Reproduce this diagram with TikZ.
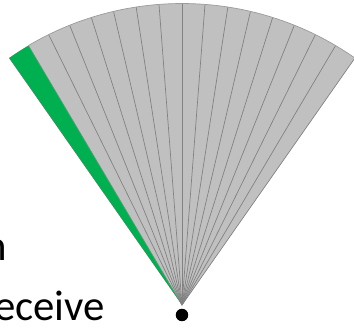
\documentclass[tikz,border=0pt]{standalone}
\usepackage{fontspec}
\setmainfont{Carlito}
\definecolor{fangray}{RGB}{192,192,192}
\definecolor{rayline}{RGB}{130,130,130}
\definecolor{beamgreen}{RGB}{0,176,80}
\tikzset{
  % --- fan sectors -----------------------------------------------------------
  sector/.style={fill=fangray},
  active/.style={fill=beamgreen},              % the lit sector
  ray/.style={draw=rayline,line width=0.7bp},
  rim/.style={draw=rayline!80,line width=0.7bp},
  % --- source point and cut-off text -----------------------------------------
  source/.style={circle,fill=black,inner sep=0pt,minimum size=12.5bp},
  caption/.style={font=\fontsize{43}{52}\selectfont,inner sep=0pt},
}

\begin{document}
\begin{tikzpicture}[x=1bp, y=1bp]
  \useasboundingbox (-182,-27) rectangle (172,305);
  \clip (-182,-27) rectangle (172,305);
  \coordinate (apex) at (0,0);
  \def\R{301.5}

  % whole fan, then the lit sector on the left
  \fill[sector] (apex) -- (55:\R) arc[start angle=55,end angle=125,radius=\R] -- cycle;
  \fill[active] (apex) -- (120.625:\R) arc[start angle=120.625,end angle=125,radius=\R] -- cycle;

  % sector boundaries, 16 sectors of 4.375 deg
  \foreach \k in {0,...,15}
    \draw[ray] (apex) -- ({55+4.375*\k}:\R);
  \draw[rim] (55:\R) arc[start angle=55,end angle=120.625,radius=\R];

  \node[source] (src) at (0,-10) {};
  \node[caption,anchor=base east] (word1) at (-175,45)  {n};
  \node[caption,anchor=base west] (word2) at (-188,-15) {eceive};
\end{tikzpicture}
\end{document}
